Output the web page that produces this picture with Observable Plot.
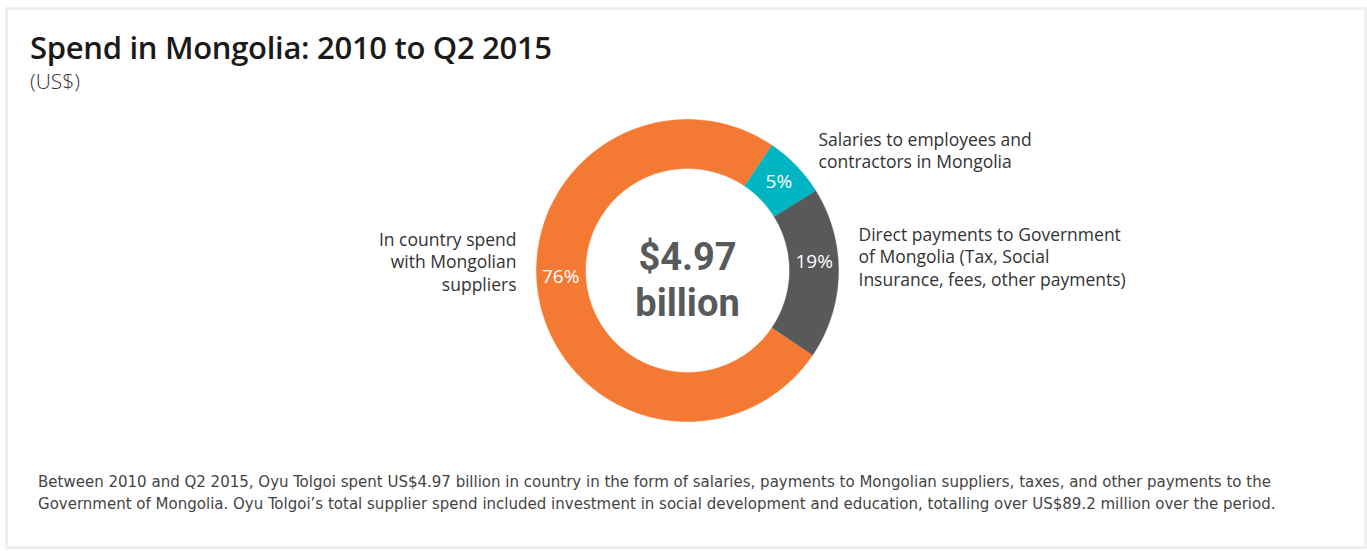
<!DOCTYPE html>
<html>
<head>
<meta charset="utf-8">
<script src="https://cdn.jsdelivr.net/npm/d3@7"></script>
<script src="https://cdn.jsdelivr.net/npm/@observablehq/plot@0.6"></script>
<style>
  html, body { margin: 0; padding: 0; background: #fff; }
  body { width: 1367px; height: 551px; position: relative; overflow: hidden; font-family: "Open Sans", "Noto Sans", sans-serif; }
  #frame { position: absolute; left: 5px; top: 7px; width: 1362px; height: 542px; box-sizing: border-box; border: 3px solid #efefef; }
  #title { position: absolute; left: 30px; top: 26px; font-size: 31px; font-weight: 600; color: #1a1a1a; letter-spacing: -0.3px; white-space: nowrap; }
  #subtitle { position: absolute; left: 30px; top: 67px; font-size: 21px; font-weight: 300; color: #333; white-space: nowrap; }
  #chart { position: absolute; left: 0; top: 100px; }
  #chart svg { background: transparent !important; }
  #caption { position: absolute; left: 38px; top: 470px; font-family: "Liberation Sans Narrow", "DejaVu Sans Condensed", sans-serif; font-size: 16.7px; line-height: 22px; color: #444; white-space: nowrap; }
</style>
</head>
<body>
<div id="frame"></div>
<div id="title">Spend in Mongolia: 2010 to Q2 2015</div>
<div id="subtitle">(US$)</div>
<div id="chart"></div>
<div id="caption">Between 2010 and Q2 2015, Oyu Tolgoi spent US$4.97 billion in country in the form of salaries, payments to Mongolian suppliers, taxes, and other payments to the<br>Government of Mongolia. Oyu Tolgoi’s total supplier spend included investment in social development and education, totalling over US$89.2 million over the period.</div>
<script>
// ---- data ----
const categories = ["In country spend with Mongolian suppliers", "Salaries to employees and contractors in Mongolia", "Direct payments to Government of Mongolia (Tax, Social Insurance, fees, other payments)"];
const shares = [75.0, 6.7, 18.3];           // slice sizes as drawn (percent)
const shareLabels = ["76%", "5%", "19%"];   // printed labels
const colors = ["#f47a33", "#00b5c3", "#58595b"];
const sideLabels = ["In country spend\nwith Mongolian\nsuppliers", "Salaries to employees and\ncontractors in Mongolia", "Direct payments to Government\nof Mongolia (Tax, Social\nInsurance, fees, other payments)"];
const centerLines = ["$4.97", "billion"];

// ---- layout ----
const W = 1367, H = 360, cx = 687, cy = 170;
const R1 = 102, R2 = 151;
const startDeg = 124;
const labelDeg = [267.3, 46, 86];
const labelR = 127;
const sidePos = [
  {x: -171, y: -41, anchor: "end"},
  {x: 131, y: -141, anchor: "start"},
  {x: 171, y: -46, anchor: "start"}
];
const centerY = [-13, 33];

const data = categories.map((c, i) => ({category: c, value: shares[i], label: shareLabels[i]}));
const pie = d3.pie().sort(null).value(d => d.value)
  .startAngle(startDeg * Math.PI / 180).endAngle(startDeg * Math.PI / 180 + 2 * Math.PI);
const arcs = pie(data);

const polys = [];
arcs.forEach(a => {
  const n = 200;
  for (let k = 0; k <= n; k++) {
    const t = a.startAngle + (a.endAngle - a.startAngle) * k / n;
    polys.push({category: a.data.category, x: R2 * Math.sin(t), y: -R2 * Math.cos(t)});
  }
  for (let k = n; k >= 0; k--) {
    const t = a.startAngle + (a.endAngle - a.startAngle) * k / n;
    polys.push({category: a.data.category, x: R1 * Math.sin(t), y: -R1 * Math.cos(t)});
  }
});

const pctLabels = arcs.map((a, i) => {
  const t = labelDeg[i] * Math.PI / 180;
  return {label: a.data.label, x: labelR * Math.sin(t), y: -labelR * Math.cos(t)};
});
const sides = categories.map((c, i) => ({text: sideLabels[i], ...sidePos[i]}));
const centers = centerLines.map((t, i) => ({text: t, x: 0, y: centerY[i]}));

const plot = Plot.plot({
  width: W, height: H, margin: 0,
  x: {domain: [-cx, W - cx], range: [0, W], axis: null},
  y: {domain: [-cy, H - cy], range: [0, H], axis: null},
  color: {domain: categories, range: colors},
  style: {fontFamily: "'Open Sans', 'Noto Sans', sans-serif", background: "transparent"},
  marks: [
    Plot.line(polys, {x: "x", y: "y", z: "category", fill: "category", stroke: "category", strokeWidth: 0.5, curve: "linear"}),
    Plot.text(pctLabels, {x: "x", y: "y", text: "label", fill: "white", fontSize: 19, fontWeight: 400}),
    Plot.text(centers, {x: "x", y: "y", text: "text", fill: "#58595b", fontSize: 38, fontWeight: 700, fontFamily: "Roboto, 'Open Sans', sans-serif"}),
    Plot.text(sides.filter(d => d.anchor === "end"), {x: "x", y: "y", text: "text", textAnchor: "end", lineAnchor: "top", fill: "#333", fontSize: 17.5, lineHeight: 1.3}),
    Plot.text(sides.filter(d => d.anchor === "start"), {x: "x", y: "y", text: "text", textAnchor: "start", lineAnchor: "top", fill: "#333", fontSize: 17.5, lineHeight: 1.3})
  ]
});
document.getElementById("chart").appendChild(plot);
</script>
</body>
</html>
